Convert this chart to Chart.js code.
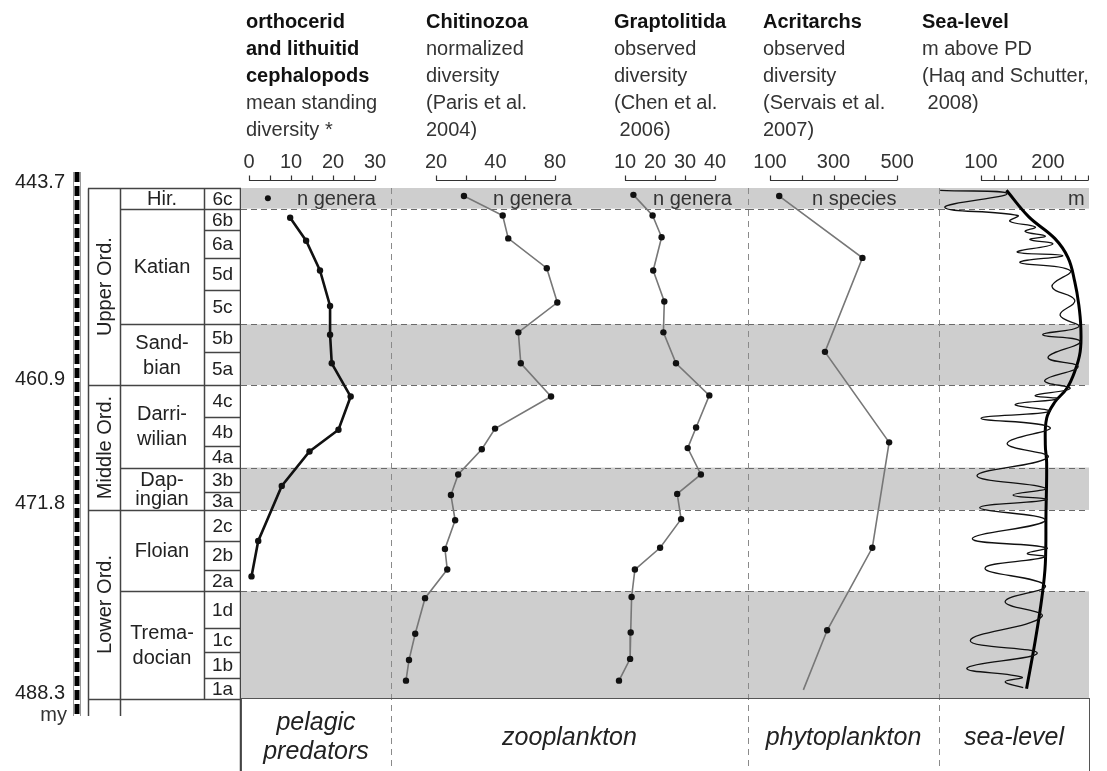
<!DOCTYPE html>
<html>
<head>
<meta charset="utf-8">
<script src="https://cdn.jsdelivr.net/npm/chart.js@4.4.1/dist/chart.umd.min.js"></script>
<style>
  html, body { margin: 0; padding: 0; background: #fff; }
  #wrap { position: relative; width: 1107px; height: 771px; overflow: hidden;
          font-family: "Liberation Sans", Arial, sans-serif; color: #222; }
  #wrap canvas { position: absolute; top: 0; }
  .head { position: absolute; top: 8px; font-size: 20px; line-height: 27px; white-space: pre; color: #333; }
  .head b { color: #111; }
  .note { position: absolute; top: 186px; font-size: 20px; line-height: 24px; color: #333; white-space: pre; }
  #bottom { position: absolute; left: 241px; top: 698px; width: 849px; height: 90px;
            border: 1.5px solid #555; border-bottom: none; box-sizing: border-box; }
  .grp { position: absolute; font-style: italic; font-size: 25px; line-height: 29px; text-align: center; color: #222; }
</style>
</head>
<body>
<div id="wrap">
  <canvas id="colChart" width="241" height="771" style="left:0"></canvas>
  <canvas id="cephChart" width="150" height="771" style="left:241px"></canvas>
  <canvas id="chitChart" width="204" height="771" style="left:391px"></canvas>
  <canvas id="graptChart" width="153" height="771" style="left:595px"></canvas>
  <canvas id="acritChart" width="191" height="771" style="left:748px"></canvas>
  <canvas id="seaChart" width="150" height="771" style="left:939px"></canvas>

<div class="head" style="left:246px"><b>orthocerid
and lithuitid
cephalopods</b>
mean standing
diversity *</div>
<div class="head" style="left:426px"><b>Chitinozoa</b>
normalized
diversity
(Paris et al.
2004)</div>
<div class="head" style="left:614px"><b>Graptolitida</b>
observed
diversity
(Chen et al.
 2006)</div>
<div class="head" style="left:763px"><b>Acritarchs</b>
observed
diversity
(Servais et al.
2007)</div>
<div class="head" style="left:922px"><b>Sea-level</b>
m above PD
(Haq and Schutter,
 2008)</div>

  <div class="note" style="left:297px">n genera</div>
  <div class="note" style="left:493px">n genera</div>
  <div class="note" style="left:653px">n genera</div>
  <div class="note" style="left:812px">n species</div>
  <div class="note" style="left:1068px">m</div>

  <div class="note" style="left:40px;top:702px;width:27px;text-align:right">my</div>

  <div id="bottom"></div>
  <div class="grp" style="left:241px;width:150px;top:707px">pelagic<br>predators</div>
  <div class="grp" style="left:391px;width:357px;top:722px">zooplankton</div>
  <div class="grp" style="left:748px;width:191px;top:722px">phytoplankton</div>
  <div class="grp" style="left:939px;width:150px;top:722px">sea-level</div>
</div>

<script>
// time scale (my)
const ageTop = 443.7;
const ageBase = 488.3;
const ageTicks = [443.7, 460.9, 471.8, 488.3];

// stratigraphy
const seriesNames = ['Upper Ord.', 'Middle Ord.', 'Lower Ord.'];
const seriesTops = [443.7, 460.9, 471.8];
const stageNames = ['Hir.', 'Katian', 'Sand-\nbian', 'Darri-\nwilian', 'Dap-\ningian', 'Floian', 'Trema-\ndocian'];
const stageTops = [443.7, 445.5, 455.6, 460.9, 468.1, 471.8, 478.9];
const zoneNames = ['6c', '6b', '6a', '5d', '5c', '5b', '5a', '4c', '4b', '4a', '3b', '3a', '2c', '2b', '2a', '1d', '1c', '1b', '1a'];
const zoneTops = [443.7, 445.5, 447.4, 449.8, 452.6, 455.6, 458.0, 460.9, 463.7, 466.2, 468.1, 470.2, 471.8, 474.5, 477.0, 478.9, 482.1, 484.2, 486.5];
const shadeTops = [443.7, 455.6, 468.1, 478.9];
const shadeBases = [445.5, 460.9, 471.8, 488.3];

// orthocerid and lithuitid cephalopods, mean standing diversity (genera)
const cephAge = [446.3, 448.3, 450.9, 454.0, 456.5, 459.0, 461.9, 464.8, 466.7, 469.7, 474.5, 477.6];
const cephGenera = [9.8, 13.6, 16.9, 19.3, 19.3, 19.7, 24.2, 21.3, 14.4, 7.8, 2.2, 0.6];
const cephHirAge = [444.6];
const cephHirGenera = [4.5];

// Chitinozoa normalized diversity
const chitAge = [444.4, 446.1, 448.1, 450.7, 453.7, 456.3, 459.0, 461.9, 464.7, 466.5, 468.7, 470.5, 472.7, 475.2, 477.0, 479.5, 482.6, 484.9, 486.7];
const chitGenera = [27.7, 43.5, 46.4, 72.7, 82.2, 52.2, 53.7, 76.4, 39.8, 34.1, 25.9, 23.8, 25.0, 22.2, 22.8, 17.6, 15.7, 14.6, 14.1];

// Graptolitida observed diversity
const graptAge = [444.3, 446.1, 448.0, 450.9, 453.6, 456.3, 459.0, 461.8, 464.6, 466.4, 468.7, 470.4, 472.6, 475.1, 477.0, 479.4, 482.5, 484.8, 486.7];
const graptGenera = [12.8, 19.2, 22.2, 19.4, 23.1, 22.8, 27.0, 38.1, 33.7, 30.9, 35.3, 27.4, 28.7, 21.7, 13.3, 12.2, 11.9, 11.7, 8.0];

// Acritarchs observed diversity (species)
const acritAge = [444.4, 449.8, 458.0, 465.9, 475.1, 482.3, 487.5];
const acritSpecies = [129, 391, 273, 475, 422, 280, 205];

// sea-level, m above present day
const seaShortAge = [443.9, 444.2, 445.4, 446.1, 446.6, 447.1, 447.5, 447.9, 448.2, 448.6, 449.3, 449.6, 450.2, 450.9, 452.3,
  453.5, 454.8, 455.8, 456.5, 457.1, 458.5, 459.3, 460.5, 461.2, 461.8, 462.1, 462.6, 463.2, 463.8, 464.6,
  466.0, 467.2, 468.8, 469.9, 470.5, 470.9, 471.6, 472.7, 474.3, 475.1, 475.6, 475.9, 476.9, 478.4, 479.8,
  481.1, 483.2, 484.3, 485.6, 486.4, 486.8, 487.3];
const seaShort = [39, 139, 46, 155, 143, 181, 166, 196, 173, 207, 154, 222, 158, 233, 206,
  240, 218, 246, 192, 248, 200, 245, 195, 233, 181, 215, 151, 203, 100, 203,
  139, 200, 94, 196, 148, 198, 98, 196, 87, 198, 169, 196, 106, 196, 136,
  191, 84, 184, 79, 161, 136, 163];
const seaLongAge = [443.9, 446.2, 448.1, 449.8, 451.9, 453.9, 455.9, 458.0, 459.7, 461.2, 462.4, 463.8, 466.1, 467.7, 472.1, 476.5, 479.4, 483.2, 487.4];
const seaLong = [138, 171, 210, 230, 240, 246, 249, 248, 240, 228, 210, 198, 196, 198, 197, 196, 191, 181, 168];

// axis ticks
const cephTicks = [0, 10, 20, 30];
const cephBar = [0, 5, 10, 15, 20, 25, 30];
const chitTicks = [20, 40, 80];
const chitBar = [20, 28.3, 40, 56.6, 80];
const graptTicks = [10, 20, 30, 40];
const graptBar = [10, 20, 30, 40];
const acritTicks = [100, 300, 500];
const acritBar = [100, 200, 300, 400, 500];
const seaTicks = [100, 200];
const seaBar = [100, 120, 140, 160, 180, 200, 220, 240, 260];

const FONT = '"Liberation Sans", Arial, sans-serif';
Chart.defaults.font.family = FONT;

function pts(xs, ys) {
    return xs.map((v, i) => ({ x: v, y: ys[i] }));
}

// grey intervals, dashed edges, scale bar above each panel
const panelBack = {
    id: 'panelBack',
    beforeDatasetsDraw(chart, args, opts) {
        const { ctx, chartArea: a, scales: { y } } = chart;
        ctx.save();
        ctx.fillStyle = '#cecece';
        shadeTops.forEach((t, i) => {
            const y0 = y.getPixelForValue(t);
            const y1 = y.getPixelForValue(shadeBases[i]);
            ctx.fillRect(a.left, y0, a.right - a.left, y1 - y0);
        });
        ctx.strokeStyle = '#6a6a6a';
        ctx.lineWidth = 1;
        ctx.setLineDash([6, 4]);
        ctx.beginPath();
        shadeTops.concat(shadeBases).forEach(v => {
            if (v === ageTop || v === ageBase) return;
            const py = Math.round(y.getPixelForValue(v)) + 0.5;
            ctx.moveTo(a.left, py);
            ctx.lineTo(a.right, py);
        });
        ctx.stroke();
        if (opts.divider) {
            ctx.strokeStyle = '#8a8a8a';
            ctx.setLineDash([6, 5]);
            ctx.beginPath();
            ctx.moveTo(a.left + 0.5, a.top);
            ctx.lineTo(a.left + 0.5, chart.height);
            ctx.stroke();
        }
        ctx.restore();
    },
    afterDraw(chart, args, opts) {
        if (!opts.bar) return;
        const { ctx, chartArea: a, scales: { x } } = chart;
        const yb = a.top - 7.5;
        ctx.save();
        ctx.strokeStyle = '#333';
        ctx.lineWidth = 1.2;
        ctx.beginPath();
        ctx.moveTo(x.getPixelForValue(opts.bar[0]), yb);
        ctx.lineTo(x.getPixelForValue(opts.bar[opts.bar.length - 1]), yb);
        opts.bar.forEach(v => {
            const px = Math.round(x.getPixelForValue(v)) + 0.5;
            ctx.moveTo(px, yb);
            ctx.lineTo(px, yb - 5);
        });
        ctx.stroke();
        ctx.restore();
    }
};

// stratigraphic column
const column = {
    id: 'column',
    afterDraw(chart) {
        const { ctx, chartArea: a, scales: { y } } = chart;
        const xSer = a.left, xSt = a.left + 32, xZn = a.right - 37, xR = a.right;
        const py = v => Math.round(y.getPixelForValue(v)) + 0.5;
        ctx.save();

        // time bar
        ctx.strokeStyle = '#999';
        ctx.lineWidth = 1;
        ctx.beginPath();
        [xSer - 14.5, xSer - 7.5].forEach(x => {
            ctx.moveTo(x, a.top - 16);
            ctx.lineTo(x, a.bottom + 17);
        });
        ctx.stroke();
        ctx.strokeStyle = '#000';
        ctx.lineWidth = 5;
        ctx.setLineDash([10, 4]);
        ctx.beginPath();
        ctx.moveTo(xSer - 11, a.top - 16);
        ctx.lineTo(xSer - 11, a.bottom + 17);
        ctx.stroke();
        ctx.setLineDash([]);

        // frame and boundaries
        ctx.strokeStyle = '#444';
        ctx.lineWidth = 1.5;
        ctx.beginPath();
        ctx.moveTo(xSer + 0.5, py(ageTop));
        ctx.lineTo(xSer + 0.5, a.bottom + 17);
        ctx.moveTo(xSt + 0.5, py(ageTop));
        ctx.lineTo(xSt + 0.5, a.bottom + 17);
        ctx.moveTo(xZn + 0.5, py(ageTop));
        ctx.lineTo(xZn + 0.5, py(ageBase));
        ctx.moveTo(xR - 0.5, py(ageTop));
        ctx.lineTo(xR - 0.5, chart.height);
        ctx.moveTo(xSer, py(ageTop));
        ctx.lineTo(xR, py(ageTop));
        ctx.moveTo(xSer, py(ageBase));
        ctx.lineTo(xR, py(ageBase));
        seriesTops.slice(1).forEach(v => { ctx.moveTo(xSer, py(v)); ctx.lineTo(xR, py(v)); });
        stageTops.slice(1).forEach(v => { ctx.moveTo(xSt, py(v)); ctx.lineTo(xR, py(v)); });
        zoneTops.slice(1).forEach(v => { ctx.moveTo(xZn, py(v)); ctx.lineTo(xR, py(v)); });
        ctx.stroke();

        // labels
        ctx.fillStyle = '#222';
        ctx.textAlign = 'center';
        ctx.textBaseline = 'middle';
        ctx.font = '19px ' + FONT;
        zoneNames.forEach((n, i) => {
            const t = y.getPixelForValue(zoneTops[i]);
            const b = y.getPixelForValue(i + 1 < zoneTops.length ? zoneTops[i + 1] : ageBase);
            ctx.fillText(n, (xZn + xR) / 2, (t + b) / 2 + 1);
        });
        ctx.font = '20px ' + FONT;
        stageNames.forEach((n, i) => {
            const t = y.getPixelForValue(stageTops[i]);
            const b = y.getPixelForValue(i + 1 < stageTops.length ? stageTops[i + 1] : ageBase);
            const lines = n.split('\n');
            const step = Math.min(25, (b - t) / 2.2);
            lines.forEach((l, k) => {
                ctx.fillText(l, (xSt + xZn) / 2, (t + b) / 2 + (k - (lines.length - 1) / 2) * step + 1);
            });
        });
        seriesNames.forEach((n, i) => {
            const t = y.getPixelForValue(seriesTops[i]);
            const b = y.getPixelForValue(i + 1 < seriesTops.length ? seriesTops[i + 1] : ageBase);
            ctx.save();
            ctx.translate((xSer + xSt) / 2 + 1, (t + b) / 2);
            ctx.rotate(-Math.PI / 2);
            ctx.fillText(n, 0, 0);
            ctx.restore();
        });
        ctx.restore();
    }
};

new Chart(document.getElementById('colChart'), {
    type: 'scatter',
    data: { datasets: [] },
    options: {
        responsive: false,
        animation: false,
        devicePixelRatio: 1,
        layout: { autoPadding: false, padding: { top: 188, bottom: 72, left: 0, right: 0 } },
        plugins: { legend: { display: false }, tooltip: { enabled: false } },
        scales: {
            x: { display: false, min: 0, max: 1 },
            y: {
                position: 'left', reverse: true, min: ageTop, max: ageBase, bounds: 'data',
                grid: { display: false, drawTicks: false },
                border: { display: false },
                afterBuildTicks: s => { s.ticks = ageTicks.map(v => ({ value: v })); },
                afterFit: s => { s.width = 88; s.paddingTop = 0; s.paddingBottom = 0; },
                ticks: { padding: 23, labelOffset: -6, color: '#222', font: { size: 20 }, callback: v => v.toFixed(1) }
            }
        }
    },
    plugins: [column]
});

function panel(id, xType, xMin, xMax, labelTicks, barTicks, datasets, divider) {
    return new Chart(document.getElementById(id), {
        type: 'scatter',
        data: { datasets },
        options: {
            responsive: false,
            animation: false,
            devicePixelRatio: 1,
            layout: { autoPadding: false, padding: { top: 148, bottom: 72, left: 0, right: 0 } },
            plugins: {
                legend: { display: false },
                tooltip: { enabled: false },
                panelBack: { bar: barTicks, divider: divider }
            },
            scales: {
                x: {
                    type: xType, position: 'top', min: xMin, max: xMax, bounds: 'data',
                    grid: { display: false, drawTicks: false },
                    border: { display: false },
                    afterBuildTicks: s => { s.ticks = labelTicks.map(v => ({ value: v })); },
                    afterFit: s => { s.height = 40; s.paddingLeft = 0; s.paddingRight = 0; },
                    ticks: { autoSkip: false, maxRotation: 0, padding: 14, color: '#333', font: { size: 20 }, callback: v => String(v) }
                },
                y: { type: 'linear', display: false, reverse: true, min: ageTop, max: ageBase, bounds: 'data' }
            }
        },
        plugins: [panelBack]
    });
}

const dotLine = (data, color, width) => ({
    data, showLine: true, tension: 0,
    borderColor: color, borderWidth: width,
    pointRadius: 3.2, pointBackgroundColor: '#111', pointBorderWidth: 0
});

panel('cephChart', 'linear', -1.9, 33.8, cephTicks, cephBar, [
    dotLine(pts(cephGenera, cephAge), '#111', 2.6),
    { data: pts(cephHirGenera, cephHirAge), showLine: false, pointRadius: 3, pointBackgroundColor: '#111', pointBorderWidth: 0 }
], false);

panel('chitChart', 'logarithmic', 11.84, 127.5, chitTicks, chitBar, [
    dotLine(pts(chitGenera, chitAge), '#777', 1.6)
], true);

panel('graptChart', 'linear', 0, 51, graptTicks, graptBar, [
    dotLine(pts(graptGenera, graptAge), '#777', 1.6)
], false);

const acritSet = dotLine(pts(acritSpecies, acritAge), '#777', 1.6);
acritSet.pointRadius = acritSpecies.map((v, i) => i === acritSpecies.length - 1 ? 0 : 3.2);
panel('acritChart', 'linear', 30.7, 632, acritTicks, acritBar, [acritSet], true);

panel('seaChart', 'linear', 37.3, 261.2, seaTicks, seaBar, [
    { data: pts(seaShort, seaShortAge), showLine: true, tension: 0.45, borderColor: '#111', borderWidth: 1.3, pointRadius: 0 },
    { data: pts(seaLong, seaLongAge), showLine: true, tension: 0.4, borderColor: '#000', borderWidth: 3, pointRadius: 0 }
], true);
</script>
</body>
</html>
